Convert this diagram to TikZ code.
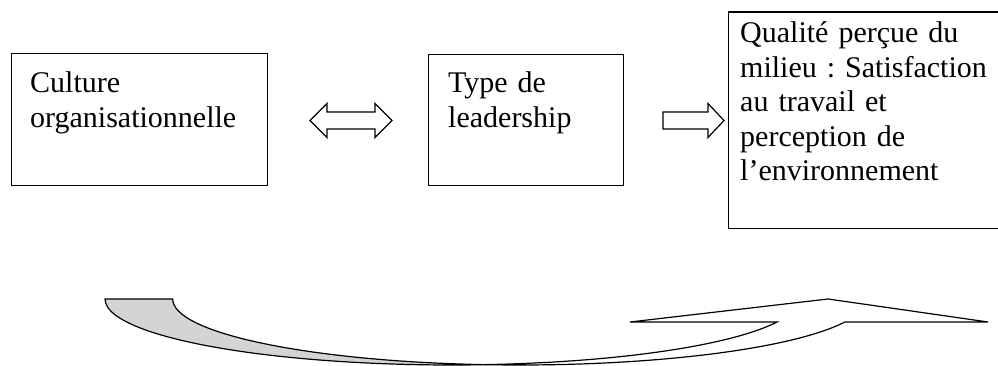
\documentclass[tikz,border=0pt]{standalone}
\usepackage{fontspec}
\setmainfont{Liberation Serif}
\usetikzlibrary{calc}
\frenchspacing
\definecolor{ribbongray}{RGB}{212,212,212}
\tikzset{
  box/.style={draw=black, line width=1.2pt, rectangle, inner sep=0pt, anchor=south west},
  lbl/.style={inner sep=0pt, anchor=base west, align=left, font=\fontsize{30}{34.5}\selectfont\frenchspacing},
  blockarrow/.style={draw=black, line width=1.2pt, fill=white, line join=miter},
  ribbon/.style={draw=black, line width=1.2pt, line join=miter}
}
\begin{document}
\begin{tikzpicture}[x=1pt, y=1pt]
\useasboundingbox (0,0) rectangle (998,366);
\clip (0,0) rectangle (998,366);
% boxes
\node[box, minimum width=256.3pt, minimum height=131.7pt] (b1) at (10.7,180) {};
\node[box, minimum width=195pt, minimum height=131pt] (b2) at (428,180) {};
\node[box, minimum width=290pt, minimum height=216.3pt] (b3) at (728,137) {};
% texts
\node[lbl, text width=240pt] (t1) at (30,273) {Culture\\organisationnelle};
\node[lbl, text width=170pt] (t2) at (448,273) {Type de\\leadership};
\node[lbl, text width=258pt] (t3) at (740,323) {Qualité perçue du\\milieu : Satisfaction\\au travail et\\perception de\\l’environnement};
% block arrows
\coordinate (da) at (351,245.5);
\draw[blockarrow] ($(da)+(-41,0)$) -- ++(17,17) -- ++(0,-8.5) -- ++(48,0) -- ++(0,8.5) -- ($(da)+(41,0)$)
  -- ++(-17,-17) -- ++(0,8.5) -- ++(-48,0) -- ++(0,-8.5) -- cycle;
\coordinate (ra) at (663,245.5);
\draw[blockarrow] (ra) ++(0,8.5) -- ++(45,0) -- ++(0,8.5) -- ++(16,-17) -- ++(-16,-17) -- ++(0,8.5) -- ++(-45,0) -- cycle;
% curved up arrow: back (gray) part
\coordinate (cl) at (105,67);
\coordinate (cr) at (173,67);
\filldraw[ribbon, fill=ribbongray] (cl) arc[start angle=180, end angle=275.6, x radius=346.9, y radius=66]
  arc[start angle=264.4, end angle=180, x radius=346.9, y radius=66] -- cycle;
% front (white) part with head
\coordinate (cx) at (485.9,1.4);
\filldraw[ribbon, fill=white] (cx) arc[start angle=275.6, end angle=339.6, x radius=346.9, y radius=66]
  -- (630,44) -- (828,67) -- (988,44) -- (844.9,44)
  arc[start angle=339.6, end angle=264.4, x radius=346.9, y radius=66] -- cycle;
\end{tikzpicture}
\end{document}
